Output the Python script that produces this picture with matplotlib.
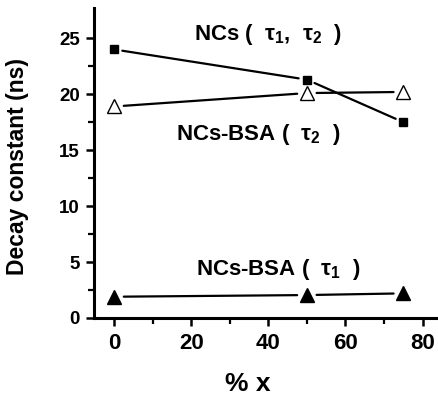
import matplotlib
matplotlib.use("Agg")
import matplotlib.pyplot as plt

x_pct = [0, 50, 75]
ncs_tau = [24.0, 21.3, 17.5]
bsa_tau2 = [18.9, 20.1, 20.2]
bsa_tau1 = [1.9, 2.05, 2.2]

yticks = [0, 5, 10, 15, 20, 25]
xticks = [0, 20, 40, 60, 80]

plt.rcParams['font.family'] = ['Liberation Sans', 'DejaVu Sans']
plt.rcParams['mathtext.fontset'] = 'custom'
plt.rcParams['mathtext.rm'] = 'Liberation Sans:bold'
plt.rcParams['mathtext.it'] = 'Liberation Sans:bold'

fig = plt.figure(figsize=(4.38, 4.01), dpi=100)
ax = fig.add_axes([0.2146, 0.207, 0.7854, 0.773])


def connect(xs, ys, gap):
    for i in range(len(xs) - 1):
        ax.annotate('', xy=(xs[i + 1], ys[i + 1]), xytext=(xs[i], ys[i]),
                    arrowprops=dict(arrowstyle='-', color='black', lw=1.6,
                                    shrinkA=gap, shrinkB=gap))


connect(x_pct, ncs_tau, 6)
connect(x_pct, bsa_tau2, 7)
connect(x_pct, bsa_tau1, 7)

ax.plot(x_pct, ncs_tau, ls='none', marker='s', ms=6, color='black', mec='black')
ax.plot(x_pct, bsa_tau2, ls='none', marker='^', ms=9.5, mfc='white', mec='black', mew=1.0)
ax.plot(x_pct, bsa_tau1, ls='none', marker='^', ms=9.5, color='black', mec='black')

ax.set_xlim(-5.2, 84)
ax.set_ylim(0, 27.7)
ax.set_xticks(xticks)
ax.set_yticks(yticks)
ax.set_xticks([10, 30, 50, 70], minor=True)
ax.set_yticks([2.5, 7.5, 12.5, 17.5, 22.5], minor=True)

for s in ['top', 'right']:
    ax.spines[s].set_visible(False)
for s in ['left', 'bottom']:
    ax.spines[s].set_linewidth(2.2)

ax.tick_params(which='major', direction='out', length=6, width=1.8)
ax.tick_params(which='minor', direction='out', length=4, width=1.6)
ax.tick_params(axis='x', which='major', labelsize=16, pad=5)
ax.tick_params(axis='y', which='major', labelsize=13.5, pad=4)
for lab in ax.get_xticklabels() + ax.get_yticklabels():
    lab.set_fontweight('bold')

ax.set_ylabel('Decay constant (ns)', fontsize=16.5, fontweight='bold', labelpad=8)
ax.yaxis.set_label_coords(-0.19, 0.49)
ax.set_xlabel('% x', fontsize=19, fontweight='bold')
ax.xaxis.set_label_coords(0.448, -0.175)

ax.text(39.9, 24.82, r'NCs (  $\tau_1$,  $\tau_2$  )', fontsize=16, fontweight='bold',
        ha='center', va='baseline')
ax.text(37.3, 15.89, r'NCs-BSA (  $\tau_2$  )', fontsize=16, fontweight='bold',
        ha='center', va='baseline')
ax.text(42.6, 3.84, r'NCs-BSA (  $\tau_1$  )', fontsize=16, fontweight='bold',
        ha='center', va='baseline')

fig.savefig('out.png', dpi=100)
